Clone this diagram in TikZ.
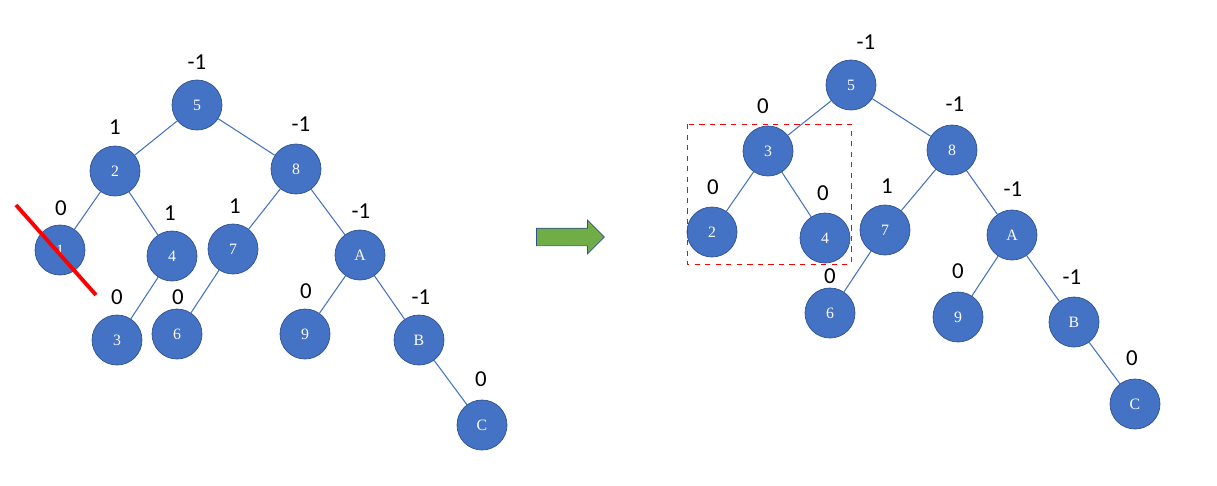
\documentclass[tikz,border=0pt]{standalone}
\usepackage{fontspec}
\setmainfont{Carlito}
\newfontfamily\keyfont{Liberation Serif}
\usepackage{xcolor}
\usepackage{tikz}
\usetikzlibrary{arrows.meta,positioning,shapes.arrows,calc}
\definecolor{nodeBlue}{HTML}{4472C4}
\definecolor{nodeEdge}{HTML}{2F528F}
\definecolor{arrGreen}{HTML}{70AD47}
\tikzset{
  key/.style={circle, fill=nodeBlue, draw=nodeEdge, thin, minimum size=10mm, inner sep=0pt, text=white, font=\keyfont\small},
  bal/.style={font=\fontsize{13}{15}\selectfont, inner sep=1pt},
  link/.style={draw=nodeBlue, line width=0.6pt}
}

\begin{document}
\begin{tikzpicture}[x=0.02cm, y=-0.02cm]
  \useasboundingbox (0,0) rectangle (1217,485);
  % left tree
  \node[key] (l5) at (197,105) {5};
  \node[key] (l2) at (115,171) {2};
  \node[key] (l8) at (296,169) {8};
  \node[key] (l1) at (60,250) {1};
  \node[key] (l4) at (172,256) {4};
  \node[key] (l7) at (233,249) {7};
  \node[key] (lA) at (360,255) {A};
  \node[key] (l3) at (117,340) {3};
  \node[key] (l6) at (177,334) {6};
  \node[key] (l9) at (305,334) {9};
  \node[key] (lB) at (419,340) {B};
  \node[key] (lC) at (482,425) {C};
  \draw[link] (l5) -- (l2);
  \draw[link] (l5) -- (l8);
  \draw[link] (l2) -- (l1);
  \draw[link] (l2) -- (l4);
  \draw[link] (l8) -- (l7);
  \draw[link] (l8) -- (lA);
  \draw[link] (l4) -- (l3);
  \draw[link] (l7) -- (l6);
  \draw[link] (lA) -- (l9);
  \draw[link] (lA) -- (lB);
  \draw[link] (lB) -- (lC);
  \node[bal] (bl5) at (197,62) {-1};
  \node[bal] (bl2) at (115,127) {1};
  \node[bal] (bl8) at (301,124) {-1};
  \node[bal] (bl1) at (61,208) {0};
  \node[bal] (bl4) at (170,213) {1};
  \node[bal] (bl7) at (235,206) {1};
  \node[bal] (blA) at (361,211) {-1};
  \node[bal] (bl3) at (117,297) {0};
  \node[bal] (bl6) at (178,297) {0};
  \node[bal] (bl9) at (306,291) {0};
  \node[bal] (blB) at (421,297) {-1};
  \node[bal] (blC) at (481,379) {0};
  % deleted key
  \coordinate (cutA) at (16,205);
  \coordinate (cutB) at (96,295);
  \draw[red, line width=2.2pt] (cutA) -- (cutB);

  % rebalance arrow
  \node[single arrow, fill=arrGreen, draw=nodeEdge, thin, minimum height=13.6mm,
        single arrow head extend=1.6mm, inner xsep=0pt, inner ysep=1.7mm] (move) at (566,237) {};

  % right tree
  \node[key] (r5) at (851,85) {5};
  \node[key] (r3) at (768,151) {3};
  \node[key] (r8) at (952,150) {8};
  \node[key] (r2) at (712,232) {2};
  \node[key] (r4) at (825,238) {4};
  \node[key] (r7) at (885,230) {7};
  \node[key] (rA) at (1012,235) {A};
  \node[key] (r6) at (830,313) {6};
  \node[key] (r9) at (958,317) {9};
  \node[key] (rB) at (1074,322) {B};
  \node[key] (rC) at (1135,404) {C};
  \draw[link] (r5) -- (r3);
  \draw[link] (r5) -- (r8);
  \draw[link] (r3) -- (r2);
  \draw[link] (r3) -- (r4);
  \draw[link] (r8) -- (r7);
  \draw[link] (r8) -- (rA);
  \draw[link] (r7) -- (r6);
  \draw[link] (rA) -- (r9);
  \draw[link] (rA) -- (rB);
  \draw[link] (rB) -- (rC);
  \node[bal] (br5) at (866,42) {-1};
  \node[bal] (br3) at (763,106) {0};
  \node[bal] (br8) at (955,104) {-1};
  \node[bal] (br2) at (713,187) {0};
  \node[bal] (br4) at (823,193) {0};
  \node[bal] (br7) at (887,186) {1};
  \node[bal] (brA) at (1013,189) {-1};
  \node[bal] (br6) at (830,276) {0};
  \node[bal] (br9) at (958,271) {0};
  \node[bal] (brB) at (1072,277) {-1};
  \node[bal] (brC) at (1132,358) {0};
  % rotated subtree
  \draw[red, dashed, thin] (687,124) rectangle (851,264);
\end{tikzpicture}
\end{document}
